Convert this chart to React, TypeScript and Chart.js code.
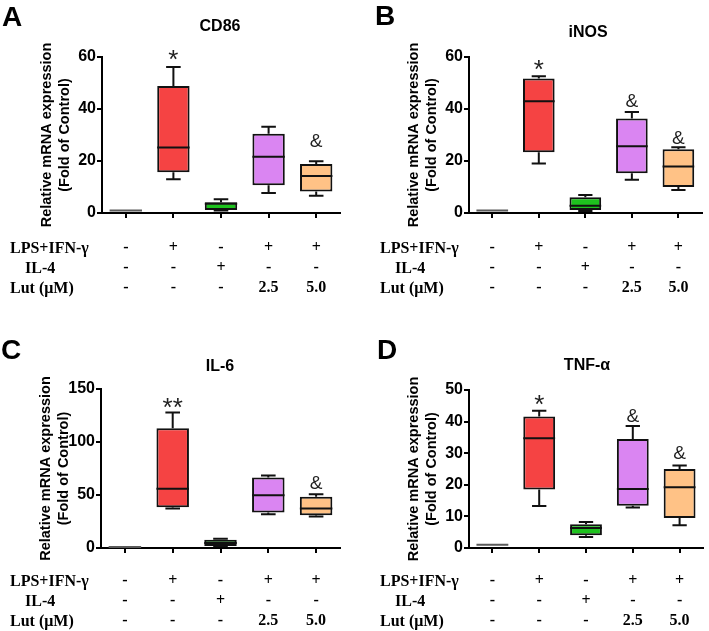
import React, { useEffect, useRef } from 'react';
import { Chart, registerables } from 'chart.js';

Chart.register(...registerables);

// Table rows under each panel (x tick labels)
const rowLPS = ['-', '+', '-', '+', '+'];
const rowIL4 = ['-', '-', '+', '-', '-'];
const rowLut = ['-', '-', '-', '2.5', '5.0'];
const rowNames = ['LPS+IFN-γ', 'IL-4', 'Lut (μM)'];

const boxFill = ['#8a8a8a', '#f54343', '#1ec21e', '#da85f2', '#ffc286'];
const boxEdge = ['#5a5a5a', '#111111', '#111111', '#111111', '#111111'];

// CD86
const cd86Min = [1, 13, 1.0, 7.7, 6.6];
const cd86Q1 = [0.9, 15.7, 1.2, 10.7, 8.3];
const cd86Med = [1, 25.2, 3.6, 21.6, 14.2];
const cd86Q3 = [1.1, 48.8, 4.1, 30.5, 18.8];
const cd86Max = [1, 56.2, 5.3, 33.2, 19.9];
const cd86Marks = ['', '*', '', '', '&'];
const cd86MarkAt = [null, 61.5, null, null, 28.1];

// iNOS
const inosMin = [1, 19, 0.8, 12.8, 8.8];
const inosQ1 = [0.9, 23.4, 1.2, 15.3, 10];
const inosMed = [1, 43, 2.8, 25.7, 17.9];
const inosQ3 = [1.1, 51.7, 6.1, 36.3, 24.5];
const inosMax = [1, 52.6, 6.9, 38.8, 25.3];
const inosMarks = ['', '*', '', '&', '&'];
const inosMarkAt = [null, 57.6, null, 43.5, 29.3];

// IL-6
const il6Min = [1, 37.2, 1.6, 31.9, 29.7];
const il6Q1 = [0.9, 38.5, 2.0, 33.4, 30.9];
const il6Med = [1, 55.8, 4.7, 49.8, 37.2];
const il6Q3 = [1.1, 113, 7.8, 66.6, 48.3];
const il6Max = [1, 127.8, 8.8, 68.4, 50.8];
const il6Marks = ['', '**', '', '', '&'];
const il6MarkAt = [null, 137.7, null, null, 62.4];

// TNF-α
const tnfMin = [1, 13.3, 3.5, 12.8, 7.2];
const tnfQ1 = [0.9, 18.5, 4.0, 13.4, 9.5];
const tnfMed = [1, 34.7, 6.3, 18.7, 19.2];
const tnfQ3 = [1.1, 41.6, 7.5, 34.5, 25];
const tnfMax = [1, 43.4, 8.2, 38.6, 26.1];
const tnfMarks = ['', '*', '', '&', '&'];
const tnfMarkAt = [null, 47.4, null, 42.1, 30.4];

const SANS = '"Liberation Sans", Arial, sans-serif';
const SERIF = '"Liberation Serif", "Times New Roman", serif';

type Spec = {
  min: number[]; q1: number[]; med: number[]; q3: number[]; max: number[];
  marks: string[]; markAt: (number | null)[];
  yMax: number; step: number;
  pad: { left: number; right: number; top: number; bottom: number };
  tickPad: number;
  w: number; h: number;
};

function makeBoxPlugin(s: Spec) {
  return {
    id: 'boxWhiskers',
    afterDatasetsDraw(chart: any) {
      const ctx = chart.ctx;
      const y = chart.scales.y;
      const meta = chart.getDatasetMeta(0);
      meta.data.forEach((bar: any, i: number) => {
        const x = bar.x;
        const w = bar.width;
        const cap = w * 0.45;
        ctx.save();
        ctx.strokeStyle = boxEdge[i];
        ctx.lineWidth = 2;
        ctx.lineCap = 'butt';
        const pMin = y.getPixelForValue(s.min[i]);
        const pMax = y.getPixelForValue(s.max[i]);
        const pQ1 = y.getPixelForValue(s.q1[i]);
        const pQ3 = y.getPixelForValue(s.q3[i]);
        const pMed = y.getPixelForValue(s.med[i]);
        ctx.beginPath();
        if (s.max[i] > s.q3[i]) {
          ctx.moveTo(x, pQ3);
          ctx.lineTo(x, pMax);
          ctx.moveTo(x - cap / 2, pMax);
          ctx.lineTo(x + cap / 2, pMax);
        }
        if (s.min[i] < s.q1[i]) {
          ctx.moveTo(x, pQ1);
          ctx.lineTo(x, pMin);
          ctx.moveTo(x - cap / 2, pMin);
          ctx.lineTo(x + cap / 2, pMin);
        }
        ctx.moveTo(x - w / 2, pMed);
        ctx.lineTo(x + w / 2, pMed);
        ctx.stroke();
        const m = s.marks[i];
        const at = s.markAt[i];
        if (m && at !== null) {
          const py = y.getPixelForValue(at);
          ctx.fillStyle = '#222';
          ctx.textAlign = 'center';
          ctx.textBaseline = 'alphabetic';
          if (m.startsWith('*')) {
            ctx.font = `26px ${SANS}`;
            ctx.fillText(m, x, py + 14.4);
          } else {
            ctx.font = `19px ${SANS}`;
            ctx.fillText(m, x, py + 6.8);
          }
        }
        ctx.restore();
      });
    },
  };
}

function BoxPanel({ spec }: { spec: Spec }) {
  const ref = useRef<HTMLCanvasElement | null>(null);
  useEffect(() => {
    if (!ref.current) return;
    const labels = rowLPS.map((v, i) => [v, rowIL4[i], rowLut[i]]);
    const chart = new Chart(ref.current, {
      type: 'bar',
      data: {
        labels,
        datasets: [
          {
            data: spec.q1.map((v, i) => [v, spec.q3[i]]) as any,
            backgroundColor: boxFill,
            borderColor: boxEdge,
            borderWidth: 2,
            borderSkipped: false,
            barPercentage: 0.68,
            categoryPercentage: 1,
          },
        ],
      },
      options: {
        responsive: false,
        animation: false,
        layout: { padding: spec.pad },
        plugins: { legend: { display: false }, tooltip: { enabled: false } },
        scales: {
          x: {
            afterFit: (sc: any) => { sc.height = 83; },
            ticks: {
              color: '#000',
              font: { family: SERIF, weight: 'bold', size: 16, lineHeight: 1.25 },
              padding: spec.tickPad,
              autoSkip: false,
              maxRotation: 0,
              minRotation: 0,
            },
            grid: {
              display: true,
              drawOnChartArea: false,
              drawTicks: true,
              tickLength: 5,
              offset: false,
              color: '#000',
              lineWidth: 2,
            },
            border: { display: true, color: '#000', width: 2 },
          },
          y: {
            min: 0,
            max: spec.yMax,
            afterFit: (sc: any) => { sc.width = 64; },
            ticks: {
              stepSize: spec.step,
              color: '#000',
              font: { family: SANS, weight: 'bold', size: 16 },
              padding: 1,
            },
            grid: {
              display: true,
              drawOnChartArea: false,
              drawTicks: true,
              tickLength: 5,
              color: '#000',
              lineWidth: 2,
            },
            border: { display: true, color: '#000', width: 2 },
            title: {
              display: true,
              text: ['Relative mRNA expression', '(Fold of Control)'],
              color: '#000',
              font: { family: SANS, weight: 'bold', size: 14.5, lineHeight: 1.25 },
              padding: { top: 0, bottom: 0 },
            },
          },
        },
      },
      plugins: [makeBoxPlugin(spec)],
    } as any);
    return () => chart.destroy();
  }, [spec]);
  return <canvas ref={ref} width={spec.w} height={spec.h} style={{ display: 'block' }} />;
}

const specA: Spec = {
  min: cd86Min, q1: cd86Q1, med: cd86Med, q3: cd86Q3, max: cd86Max,
  marks: cd86Marks, markAt: cd86MarkAt, yMax: 60, step: 20,
  pad: { left: 38, right: 14, top: 57, bottom: 14 }, tickPad: 20, w: 354, h: 310,
};
const specB: Spec = {
  min: inosMin, q1: inosQ1, med: inosMed, q3: inosQ3, max: inosMax,
  marks: inosMarks, markAt: inosMarkAt, yMax: 60, step: 20,
  pad: { left: 51, right: 6, top: 57, bottom: 14 }, tickPad: 20, w: 355, h: 310,
};
const specC: Spec = {
  min: il6Min, q1: il6Q1, med: il6Med, q3: il6Q3, max: il6Max,
  marks: il6Marks, markAt: il6MarkAt, yMax: 150, step: 50,
  pad: { left: 37, right: 14, top: 74, bottom: 0 }, tickPad: 18, w: 354, h: 316,
};
const specD: Spec = {
  min: tnfMin, q1: tnfQ1, med: tnfMed, q3: tnfQ3, max: tnfMax,
  marks: tnfMarks, markAt: tnfMarkAt, yMax: 50, step: 10,
  pad: { left: 51, right: 6, top: 75, bottom: 0 }, tickPad: 18, w: 355, h: 316,
};

const abs = (left: number, top: number, extra: any = {}): any => ({
  position: 'absolute', left, top, whiteSpace: 'nowrap', color: '#000', ...extra,
});

function Letter({ t, left, top }: { t: string; left: number; top: number }) {
  return (
    <div style={abs(left, top, { font: `bold 28px/28px ${SANS}` })}>{t}</div>
  );
}

function Title({ t, cx, top }: { t: string; cx: number; top: number }) {
  return (
    <div style={abs(cx - 60, top, { width: 120, textAlign: 'center', font: `bold 16px/16px ${SANS}` })}>{t}</div>
  );
}

function RowLabels({ left, top }: { left: number; top: number }) {
  const indents = [0, 15, 0];
  return (
    <>
      {rowNames.map((n, i) => (
        <div key={n} style={abs(left + indents[i], top + i * 20, { font: `bold 16px/20px ${SERIF}` })}>{n}</div>
      ))}
    </>
  );
}

export default function App() {
  return (
    <div style={{ position: 'absolute', left: 0, top: 0, width: 709, height: 631, background: '#fff', overflow: 'hidden' }}>
      <div style={abs(0, 0)}><BoxPanel spec={specA} /></div>
      <div style={abs(354, 0)}><BoxPanel spec={specB} /></div>
      <div style={abs(0, 315)}><BoxPanel spec={specC} /></div>
      <div style={abs(354, 315)}><BoxPanel spec={specD} /></div>
      <Letter t="A" left={2} top={3} />
      <Letter t="B" left={375} top={2} />
      <Letter t="C" left={1} top={336} />
      <Letter t="D" left={377} top={336} />
      <Title t="CD86" cx={220} top={18} />
      <Title t="iNOS" cx={588} top={24} />
      <Title t="IL-6" cx={220} top={358} />
      <Title t="TNF-α" cx={587} top={357} />
      <RowLabels left={10} top={238} />
      <RowLabels left={380} top={238} />
      <RowLabels left={10} top={571} />
      <RowLabels left={380} top={571} />
    </div>
  );
}
